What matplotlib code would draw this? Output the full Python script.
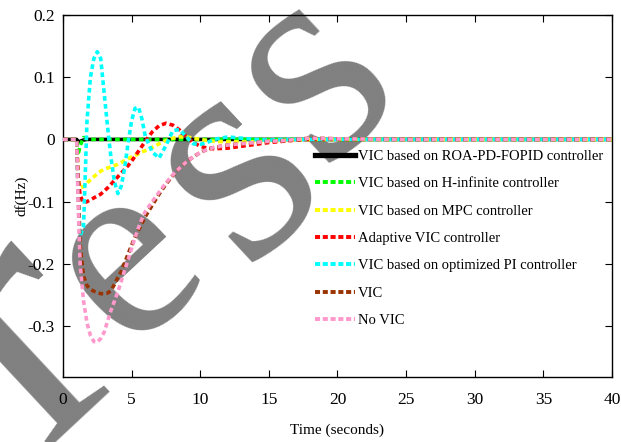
import matplotlib
matplotlib.use("Agg")
import matplotlib.pyplot as plt
from matplotlib.lines import Line2D

plt.rcParams['font.family'] = ['Liberation Serif', 'DejaVu Serif']

t = [0, 1.0, 1.1, 1.25, 1.5, 1.75, 2.0, 2.25, 2.5, 2.75, 3.0, 3.25, 3.5, 3.75,
     4.0, 4.25, 4.5, 4.75, 5.0, 5.25, 5.5, 5.75, 6.0, 6.5, 7.0, 7.5, 8.0, 8.5,
     9.0, 9.5, 10.0, 10.5, 11.0, 12.0, 13.0, 14.0, 15.0, 16.0, 17.0, 18.0,
     20.0, 25.0, 30.0, 40.0]

roa = [0, 0, -0.004, -0.003, -0.001, 0, 0, 0, 0, 0, 0, 0, 0, 0,
       0, 0, 0, 0, 0, 0, 0, 0, 0, 0, 0, 0, 0, 0,
       0, 0, 0, 0, 0, 0, 0, 0, 0, 0, 0, 0,
       0, 0, 0, 0]
hinf = [0, 0, -0.025, -0.01, 0.003, 0.001, 0, 0, 0, 0, 0, 0, 0, 0,
        0, 0, 0, 0, 0, 0, 0, 0, 0, 0, 0, 0, 0, 0,
        0, 0, 0, 0, 0, 0, 0, 0, 0, 0, 0, 0,
        0, 0, 0, 0]
mpc = [0, 0, -0.06, -0.078, -0.076, -0.07, -0.065, -0.06, -0.055, -0.051, -0.048, -0.046, -0.044, -0.042,
       -0.04, -0.037, -0.034, -0.031, -0.028, -0.026, -0.023, -0.02, -0.018, -0.013, -0.007, -0.002, 0.002, 0.004,
       0.004, 0.002, 0.0, -0.002, -0.003, -0.004, -0.004, -0.004, -0.003, -0.002, -0.001, 0.0,
       0, 0, 0, 0]
adaptive = [0, 0, -0.06, -0.09, -0.102, -0.1, -0.097, -0.094, -0.091, -0.088, -0.083, -0.078, -0.072, -0.066,
            -0.06, -0.054, -0.048, -0.042, -0.035, -0.027, -0.019, -0.011, -0.003, 0.012, 0.022, 0.026, 0.023, 0.015,
            0.004, -0.005, -0.011, -0.014, -0.015, -0.014, -0.011, -0.008, -0.005, -0.003, -0.001, 0.0,
            0, 0, 0, 0]
pi_opt = [0, 0, -0.09, -0.155, -0.14, 0.03, 0.1, 0.13, 0.141, 0.13, 0.075, 0.02, -0.03, -0.068,
          -0.087, -0.075, -0.045, -0.005, 0.03, 0.05, 0.052, 0.033, 0.005, -0.02, -0.03, -0.01, 0.014, 0.016,
          0.004, -0.007, -0.008, -0.005, 0.0, 0.004, 0.002, 0.0, -0.001, 0.0, 0.0, 0.0,
          0, 0, 0, 0]
vic = [0, 0, -0.08, -0.17, -0.22, -0.235, -0.241, -0.244, -0.246, -0.248, -0.248, -0.247, -0.243, -0.233,
       -0.222, -0.212, -0.198, -0.184, -0.17, -0.157, -0.146, -0.135, -0.124, -0.106, -0.088, -0.072, -0.058, -0.046,
       -0.036, -0.028, -0.021, -0.016, -0.013, -0.009, -0.007, -0.005, -0.003, -0.002, 0.0, 0.002,
       0.001, 0, 0, 0]
no_vic = [0, 0, -0.1, -0.2, -0.26, -0.295, -0.315, -0.325, -0.326, -0.32, -0.31, -0.292, -0.275, -0.26,
          -0.245, -0.228, -0.21, -0.193, -0.175, -0.158, -0.142, -0.128, -0.116, -0.1, -0.085, -0.07, -0.057, -0.046,
          -0.036, -0.028, -0.021, -0.016, -0.013, -0.009, -0.007, -0.005, -0.003, -0.002, 0.0, 0.002,
          0.001, 0, 0, 0]

labels = ["VIC based on ROA-PD-FOPID controller",
          "VIC based on H-infinite controller",
          "VIC based on MPC controller",
          "Adaptive VIC controller",
          "VIC based on optimized PI controller",
          "VIC",
          "No VIC"]
series = [roa, hinf, mpc, adaptive, pi_opt, vic, no_vic]
colors = ["#000000", "#00ff00", "#ffff00", "#ff0000", "#00ffff", "#993300", "#ff99cc"]

xticks = [0, 5, 10, 15, 20, 25, 30, 35, 40]
yticks = [-0.3, -0.2, -0.1, 0, 0.1, 0.2]
yticklabels = ["-0.3", "-0.2", "-0.1", "0", "0.1", "0.2"]

watermark_letters = ["r", "e", "s", "s"]
watermark_pos = [(0.142, 0.085), (0.273, 0.303), (0.462, 0.493), (0.583, 0.714)]
watermark_size = [270, 190, 225, 215]

fig = plt.figure(figsize=(6.21, 4.42), dpi=100)
ax = fig.add_axes([0.1014, 0.147, 0.8841, 0.819])
ax.set_facecolor('none')

for ch, (px, py), fs in zip(watermark_letters, watermark_pos, watermark_size):
    fig.text(px, py, ch, rotation=43, fontsize=fs, color='#808080',
             ha='center', va='baseline', rotation_mode='anchor', zorder=-1,
             family='Liberation Serif')

handles = []
for i, (ys, c, lab) in enumerate(zip(series, colors, labels)):
    if i == 0:
        ax.plot(t, ys, color=c, lw=2.6, solid_capstyle='butt', zorder=2)
        handles.append(Line2D([], [], color=c, lw=3.8))
    else:
        ax.plot(t, ys, color=c, lw=2.6, dashes=(1.3, 0.9), zorder=2 + i * 0.1)
        handles.append(Line2D([], [], color=c, lw=2.8, dashes=(1.3, 0.7)))

ax.set_xlim(0, 40)
ax.set_ylim(-0.382, 0.2)
ax.set_xticks(xticks)
ax.set_yticks(yticks)
ax.set_yticklabels(yticklabels)
ax.tick_params(direction='in', top=True, right=True, labelsize=12.5, length=5)
ax.tick_params(axis='x', pad=11)
ax.tick_params(axis='y', pad=6)
for s in ax.spines.values():
    s.set_linewidth(1.0)
ax.set_xlabel("Time (seconds)", fontsize=11, labelpad=11)
ax.set_ylabel("df(Hz)", fontsize=11, labelpad=-1)

leg = ax.legend(handles, labels, loc='upper right', bbox_to_anchor=(1.0, 0.652),
                borderaxespad=0, fontsize=10.5, handlelength=2.75, handletextpad=0.2,
                labelspacing=0.97, fancybox=False, framealpha=0, edgecolor='black',
                borderpad=0.6)
leg.get_frame().set_linewidth(1.0)

fig.savefig("out.png", dpi=100)
